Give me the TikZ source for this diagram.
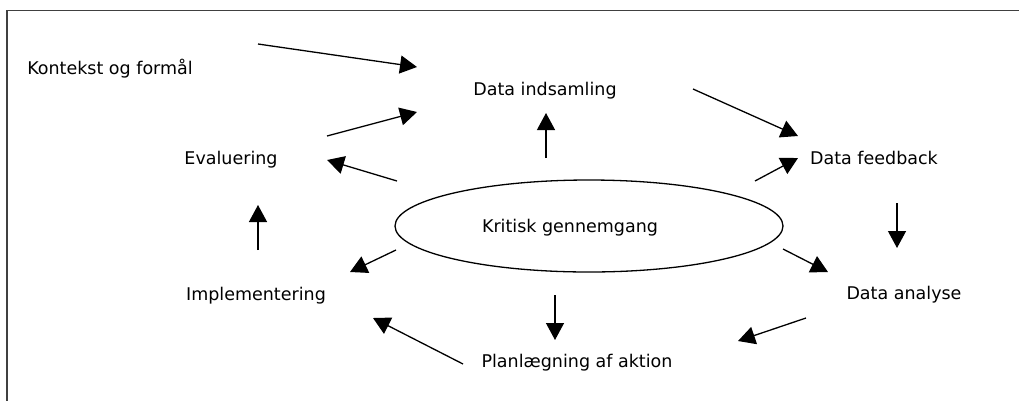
\documentclass[tikz,border=0pt]{standalone}
\usepackage{fontspec}
\setmainfont{DejaVu Sans}
\usetikzlibrary{arrows.meta,shapes.geometric}
\begin{document}
\begin{tikzpicture}[x=1pt,y=-1pt,
  lbl/.style={inner sep=0pt, font=\fontsize{17.5}{20}\selectfont},
  arr/.style={line width=1.3pt, -{Triangle[length=17pt,width=18pt]}},
  frame/.style={line width=1.5pt, draw=black!75}]
\useasboundingbox (0,0) rectangle (1019,400);
\draw[frame] (7,401) -- (7,10.5) -- (1020,10.5);
% ellipse
\node[draw, line width=1.3pt, ellipse, minimum width=388pt, minimum height=92pt, inner sep=0pt] (kg) at (589,226) {};
\node[lbl] (kgt) at (570,228) {Kritisk gennemgang};
% labels
\node[lbl] (kon) at (110,69) {Kontekst og formål};
\node[lbl] (ind) at (545,91) {Data indsamling};
\node[lbl] (fb) at (874,158) {Data feedback};
\node[lbl] (ev) at (231,160) {Evaluering};
\node[lbl] (imp) at (256,296) {Implementering};
\node[lbl] (plan) at (577,363) {Planlægning af aktion};
\node[lbl] (an) at (904,295) {Data analyse};
% arrow end points
\coordinate (s1) at (258,44);  \coordinate (e1) at (417,67);
\coordinate (s2) at (327,136); \coordinate (e2) at (417,112);
\coordinate (s3) at (397,181); \coordinate (e3) at (327,160);
\coordinate (s4) at (546,158); \coordinate (e4) at (546,113);
\coordinate (s5) at (693,89);  \coordinate (e5) at (798,136);
\coordinate (s6) at (755,181); \coordinate (e6) at (798,158);
\coordinate (s7) at (897,203); \coordinate (e7) at (897,248);
\coordinate (s8) at (783,249); \coordinate (e8) at (828,272);
\coordinate (s9) at (806,318); \coordinate (e9) at (738,341);
\coordinate (s10) at (555,295); \coordinate (e10) at (555,340);
\coordinate (s11) at (463,364); \coordinate (e11) at (373,318);
\coordinate (s12) at (396,250); \coordinate (e12) at (350,272);
\coordinate (s13) at (258,250); \coordinate (e13) at (258,205);
\foreach \i in {1,...,13} {\draw[arr] (s\i) -- (e\i);}
\end{tikzpicture}
\end{document}
